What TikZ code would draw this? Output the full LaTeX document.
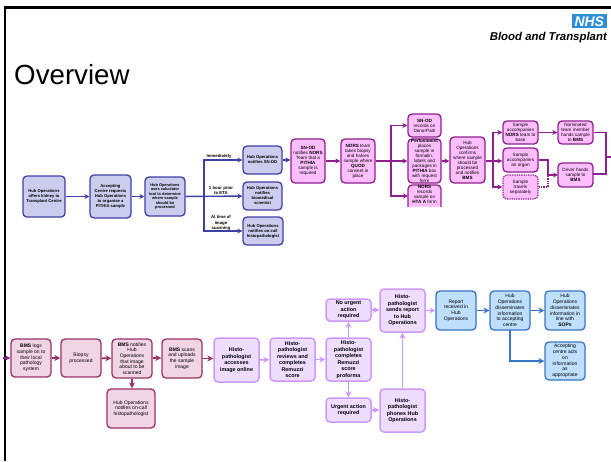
\documentclass[tikz,border=0pt]{standalone}
\usepackage{fontspec}
\setmainfont{Liberation Sans}
\usetikzlibrary{arrows.meta}
\definecolor{bluefill}{HTML}{CCCCEE}
\definecolor{blueline}{HTML}{3F3FA6}
\definecolor{pinkfill}{HTML}{FFBFFF}
\definecolor{pinkline}{HTML}{8F1F8F}
\definecolor{rosefill}{HTML}{F2D5E4}
\definecolor{roseline}{HTML}{993366}
\definecolor{lilacfill}{HTML}{EEDDFF}
\definecolor{lilacline}{HTML}{CC99FF}
\definecolor{skyfill}{HTML}{BFDFFF}
\definecolor{skyline}{HTML}{3A74C4}
\definecolor{nhsblue}{HTML}{2E8FD6}
\tikzset{
 x=1pt,y=-1pt,
 basebox/.style={draw,rounded corners=4pt,line width=1.3pt,align=center,inner sep=0pt},
 conn/.style={line width=1.4pt,-{Stealth[length=5pt,width=5pt]}},
 thickconn/.style={line width=1.9pt,-{Stealth[length=6pt,width=6pt]}},
 plain/.style={line width=1.4pt},
 bluebox/.style={basebox,fill=bluefill,draw=blueline,font=\fontsize{4.15}{5}\selectfont\bfseries},
 smallblue/.style={bluebox,font=\fontsize{3.9}{4.55}\selectfont\bfseries},
 pinkbox/.style={basebox,fill=pinkfill,draw=pinkline,font=\fontsize{4.6}{5}\selectfont},
 rosebox/.style={basebox,fill=rosefill,draw=roseline,font=\fontsize{5}{5.65}\selectfont},
 lilacbox/.style={basebox,fill=lilacfill,draw=lilacline,line width=1.5pt,font=\fontsize{5.4}{6.5}\selectfont\bfseries},
 skybox/.style={basebox,fill=skyfill,draw=skyline,font=\fontsize{5}{5.75}\selectfont},
 lab/.style={font=\fontsize{4.3}{5.2}\selectfont\bfseries,align=center,inner sep=0pt},
}
\newcommand{\bx}[7]{\node[#1,minimum width=#4pt-#2pt,minimum height=#5pt-#3pt] (#6) at ({(#2+#4)/2},{(#3+#5)/2}) {#7};}
\begin{document}
\begin{tikzpicture}
\useasboundingbox (0,0) rectangle (611,461);
\fill[white] (0,0) rectangle (611,461);
\draw[line width=2.4pt,black] (4.7,461) -- (4.7,7.5) -- (611,7.5);
\node[anchor=base west,inner sep=0pt,font=\fontsize{27.7}{27.7}\selectfont] (title) at (14,84) {Overview};
\node[fill=nhsblue,text=white,inner sep=0pt,minimum width=35pt,minimum height=14pt,font=\fontsize{14}{14}\selectfont\bfseries\itshape,anchor=north east] (logo) at (607,14) {NHS};
\node[anchor=base east,inner sep=0pt,font=\fontsize{11.4}{11.4}\selectfont\bfseries\itshape] (org) at (607,40.5) {Blood and Transplant};
% row 1
\bx{bluebox}{23}{176}{65}{217}{a}{Hub Operations\\offers kidney to\\Transplant Centre}
\bx{bluebox}{90}{175}{131}{218}{b}{Accepting\\Centre requests\\Hub Operations\\to organise a\\PITHIA sample}
\bx{smallblue}{145}{177}{185}{216}{c}{Hub Operations\\uses calculator\\tool to determine\\where sample\\should be\\processed}
\bx{bluebox}{243}{146}{282}{174}{d}{Hub Operations\\notifies SN-OD}
\bx{bluebox}{243}{182}{282}{210}{e}{Hub Operations\\notifies\\biomedical\\scientist}
\bx{bluebox}{243}{217}{283}{245}{f}{Hub Operations\\notifies on-call\\histopathologist}
\bx{pinkbox}{291}{139}{325}{183}{g}{\textbf{SN-OD}\\notifies \textbf{NORS}\\Team that a\\\textbf{PITHIA}\\sample is\\required}
\bx{pinkbox}{341}{139}{375}{183}{h}{\textbf{NORS} team\\takes biopsy\\and halves\\sample where\\\textbf{QUOD}\\consent in\\place}
\bx{pinkbox}{408}{114}{441}{137}{i}{\textbf{SN-OD}\\records on\\DonorPath}
\bx{pinkbox}{408}{139}{441}{183}{j}{\textbf{Perfusionist}\\places\\sample in\\formalin,\\labels and\\packages in\\\textbf{PITHIA} box\\with request\\form}
\begin{scope}
\clip (400,180) rectangle (445,206);
\bx{pinkbox}{408}{185}{441}{216}{k}{\textbf{NORS}\\records\\sample on\\\textbf{HTA A} form\\[7pt]}
\end{scope}
\bx{pinkbox}{450}{137}{485}{183}{l}{Hub\\Operations\\confirms\\where sample\\should be\\processed\\and notifies\\\textbf{BMS}}
\bx{pinkbox}{503}{121}{538}{144}{m}{Sample\\accompanies\\\textbf{NORS} team to\\base}
\bx{pinkbox}{503}{148}{538}{172}{n}{Sample\\accompanies\\an organ}
\bx{pinkbox,densely dotted}{503}{175}{538}{199}{o}{Sample\\travels\\separately}
\bx{pinkbox}{558}{121}{593}{144}{p}{Nominated\\team member\\hands sample\\to \textbf{BMS}}
\bx{pinkbox}{558}{163}{593}{187}{q}{Driver hands\\sample to\\\textbf{BMS}}
% row 2
\bx{rosebox}{11}{339}{51}{377}{r}{\textbf{BMS} logs\\sample on to\\their local\\pathology\\system}
\bx{rosebox}{61}{339}{101}{377}{s}{Biopsy\\processed}
\bx{rosebox}{112}{339}{152}{378}{t}{\textbf{BMS} notifies\\Hub\\Operations\\that image\\about to be\\scanned}
\bx{rosebox}{162}{339}{202}{378}{u}{\textbf{BMS} scans\\and uploads\\the sample\\image}
\bx{rosebox}{107}{389}{155}{428}{v}{Hub Operations\\notifies on-call\\histopathologist}
\bx{lilacbox}{214}{338}{259}{382}{w}{Histo-\\pathologist\\accesses\\image online}
\bx{lilacbox}{270}{338}{315}{381}{x}{Histo-\\pathologist\\reviews and\\completes\\Remuzzi\\score}
\bx{lilacbox}{326}{338}{371}{381}{y}{Histo-\\pathologist\\completes\\Remuzzi\\score\\proforma}
\bx{lilacbox}{326}{299}{371}{321}{z}{No urgent\\action\\required}
\bx{lilacbox}{326}{398}{371}{422}{aa}{Urgent action\\required}
\bx{lilacbox}{380}{289}{425}{332}{ab}{Histo-\\pathologist\\sends report\\to Hub\\Operations}
\bx{lilacbox}{380}{389}{425}{432}{ac}{Histo-\\pathologist\\phones Hub\\Operations}
\bx{skybox}{436}{291}{476}{330}{ad}{Report\\received in\\Hub\\Operations}
\bx{skybox}{490}{291}{530}{330}{ae}{Hub\\Operations\\disseminates\\information\\to accepting\\centre}
\bx{skybox}{545}{291}{585}{330}{af}{Hub\\Operations\\disseminates\\information in\\line with\\\textbf{SOPs}}
\bx{skybox}{545}{342}{585}{380}{ag}{Accepting\\centre acts\\on\\information\\as\\appropriate}
% labels
\node[lab] (l1) at (219,156) {Immediately};
\node[lab] (l2) at (221,190.5) {1 hour prior\\to ETA};
\node[lab] (l3) at (221,223) {At time of\\image\\scanning};
% connectors
\begin{scope}[draw=blueline,color=blueline]
\draw[conn] (a) -- (b);
\draw[conn] (b) -- (c);
\draw[conn] (c) -- (e);
\draw[conn] (c.east) -- (204,196.5) |- (d.west);
\draw[conn] (c.east) -- (204,196.5) |- (f.west);
\draw[conn] (d) -- (g.west |- d);
\end{scope}
\begin{scope}[draw=pinkline,color=pinkline]
\draw[conn] (g) -- (h);
\draw[conn] (h) -- (j);
\draw[conn] (h.east) -- (391,161) |- (i.west);
\draw[conn] (h.east) -- (391,161) |- (408,196);
\draw[conn] (j) -- (l.west |- j);
\draw[conn] (l.east |- j) -- (493,161) |- (m.west);
\draw[conn] (l.east |- j) -- (n.west |- j);
\draw[conn] (l.east |- j) -- (493,161) |- (o.west);
\draw[conn] (m) -- (p);
\draw[conn] (n.east) -- (548,160) |- (558,175);
\draw[plain,densely dotted] (o.east) -- (548,187) -- (548,175);
\draw[plain] (p.east) -- (606,132.5) -- (606,174) -- (593,174);
\draw[plain] (606,157) -- (611,157);
\draw[conn] (3,358) -- (r.west);
\end{scope}
\begin{scope}[draw=roseline,color=roseline]
\draw[thickconn] (r) -- (s);
\draw[thickconn] (s) -- (t);
\draw[thickconn] (t.east |- s) -- (u.west |- s);
\draw[thickconn] (t) -- (t |- v.north);
\draw[thickconn] (u.east) -- (w.west |- u);
\end{scope}
\begin{scope}[draw=lilacline,color=lilacline]
\draw[thickconn] (w) -- (x);
\draw[thickconn] (x) -- (y);
\draw[thickconn] (y) -- (z);
\draw[thickconn] (y) -- (aa);
\draw[thickconn] (z) -- (ab.west |- z);
\draw[thickconn] (aa) -- (ac.west |- aa);
\draw[thickconn] (ac) -- (ab);
\draw[thickconn] (ab.east |- ad) -- (ad);
\end{scope}
\begin{scope}[draw=skyline,color=skyline]
\draw[thickconn] (ad) -- (ae);
\draw[thickconn] (ae) -- (af);
\draw[thickconn] (510,330) |- (ag.west);
\end{scope}
\end{tikzpicture}
\end{document}
